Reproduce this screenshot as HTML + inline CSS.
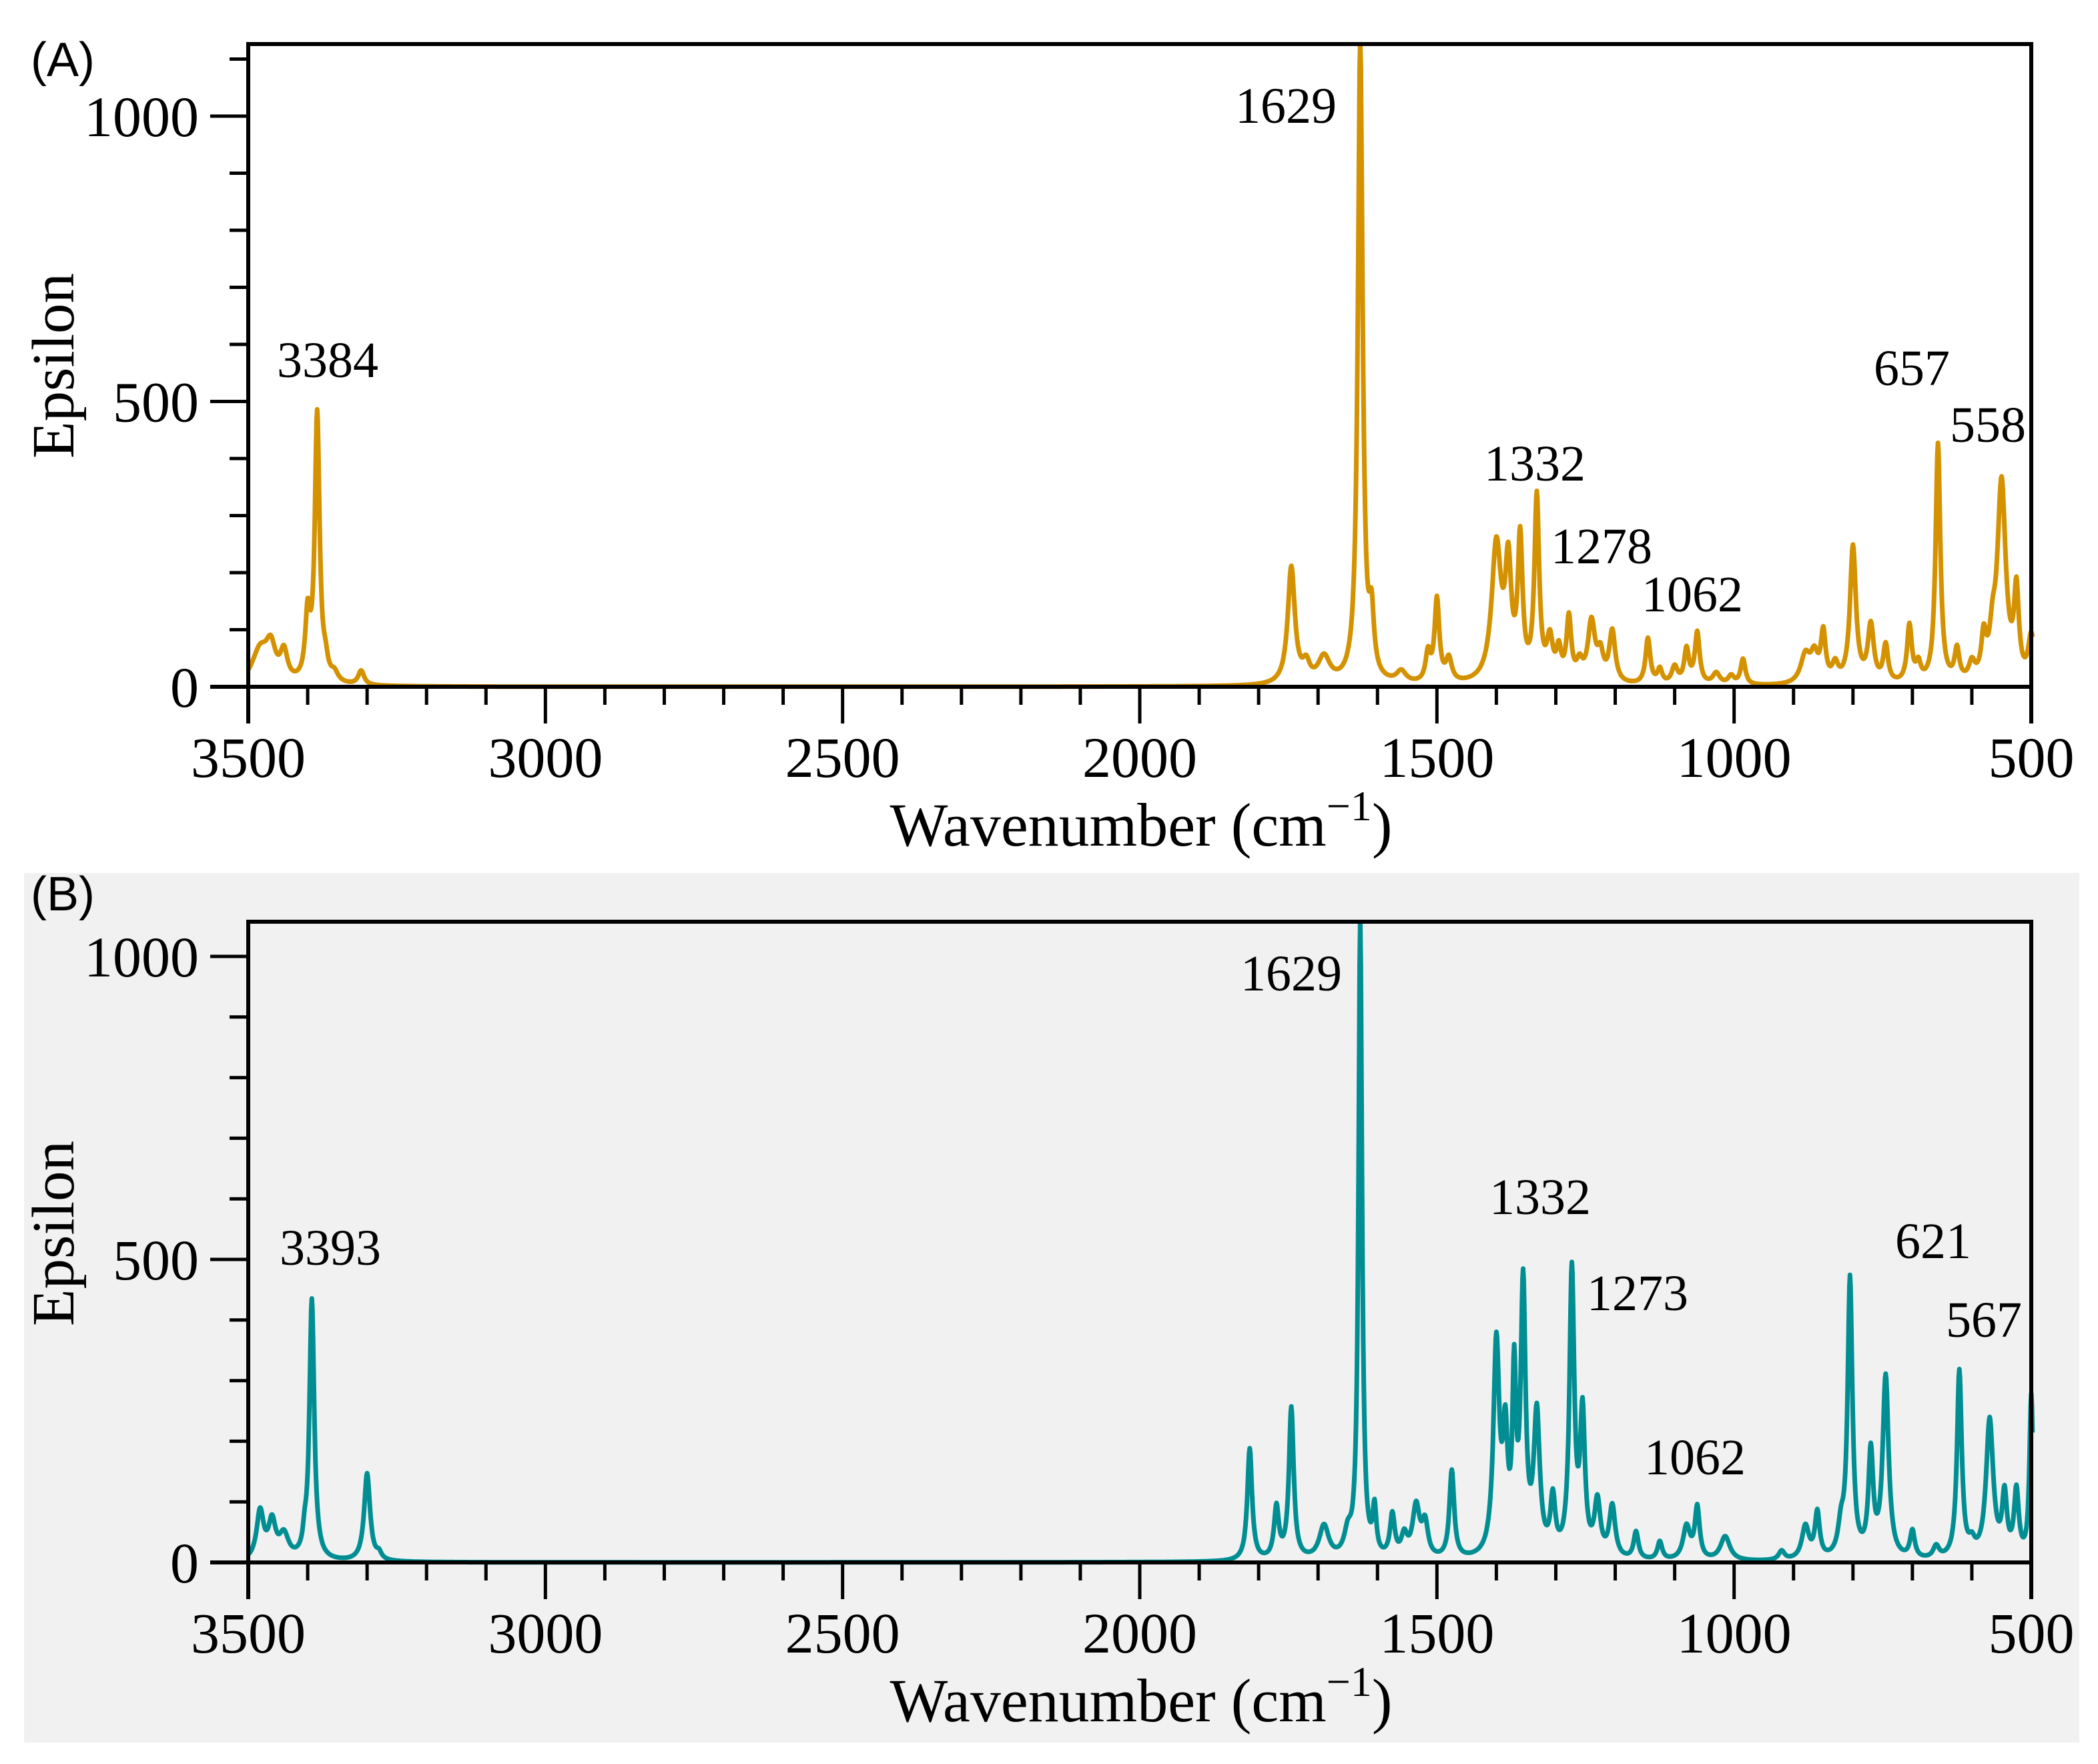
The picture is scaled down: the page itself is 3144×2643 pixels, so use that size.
<!DOCTYPE html>
<html><head><meta charset="utf-8"><style>
html,body{margin:0;padding:0;background:#fff;}
svg{display:block;}
text{font-family:"Liberation Serif",serif;fill:#000;}
.lbl{font-family:"Liberation Sans",sans-serif;}
</style></head><body>
<svg id="chart" width="3144" height="2643" viewBox="0 0 3144 2643" xmlns="http://www.w3.org/2000/svg">
<rect x="0" y="0" width="3144" height="2643" fill="#fff"/>
<rect x="36" y="1308" width="3080" height="1303" fill="#f1f1f1"/>
<g id="panelA"></g>
<g id="panelB"></g>
</svg>
<script>
// Panel A data (peak list: wavenumber, height, half width)
const peaksA_pos = [3480,3462,3440,3400,3384,3370,3355,3310,1745,1720,1690,1629,1610,1560,1515,1500,1480,1400,1380,1360,1332,1310,1295,1278,1260,1240,1225,1205,1145,1125,1100,1080,1062,1030,1005,985,880,865,850,830,800,770,745,705,690,657,625,600,580,565,550,525,500];
const peaksA_h   = [60,55,50,110,470,25,15,25,205,30,45,1120,100,20,50,145,40,240,190,240,320,70,50,110,30,105,45,90,80,25,30,60,90,20,15,45,50,45,85,30,240,100,65,100,30,420,55,30,70,60,350,150,80];
const peaksA_w   = [14,8,6,4,4,4,6,5,6,6,10,4,4,8,4,4,5,8,5,4,4,5,4,4,5,6,5,5,4,4,5,4,4,6,5,4,8,6,4,5,5,5,4,4,4,4,4,5,4,5,7,4,5];
// Panel B data
const peaksB_pos = [3480,3460,3440,3405,3393,3300,3280,1815,1770,1745,1690,1650,1629,1605,1575,1555,1535,1520,1475,1400,1385,1370,1355,1332,1305,1273,1255,1230,1205,1165,1125,1080,1062,1015,920,880,860,820,805,770,745,700,660,621,600,570,545,525,500];
const peaksB_h   = [80,60,40,25,430,145,10,185,85,250,55,35,1050,75,70,35,85,55,145,350,180,280,440,230,90,470,230,90,85,45,30,55,85,40,15,55,75,45,460,170,300,45,20,310,20,230,100,110,270];
const peaksB_w   = [6,6,8,3,4,5,4,4,4,4,8,6,3,3,4,5,6,5,4,5,4,3,4,5,4,4,4,5,5,4,4,6,4,8,5,6,4,5,4,4,5,4,5,4,5,6,4,4,3];
const xTicksMajor = [3500,3000,2500,2000,1500,1000,500];
const xTickLabels = ["3500","3000","2500","2000","1500","1000","500"];
const yTicksMajor = [0,500,1000];
const yTickLabels = ["0","500","1000"];
const annotA_text = ["3384","1629","1332","1278","1062","657","558"];
const annotB_text = ["3393","1629","1332","1273","1062","621","567"];

const NS = "http://www.w3.org/2000/svg";
function el(tag, attrs, parent){const e=document.createElementNS(NS,tag);for(const k in attrs)e.setAttribute(k,attrs[k]);parent.appendChild(e);return e;}

const WSCALE = 1.2;
function spectrum(pos,h,w,x){let s=0;for(let i=0;i<pos.length;i++){const d=(x-pos[i])/(w[i]*WSCALE);s+=h[i]/(1+d*d);}return s;}

function drawPanel(g, cfg){
  const L=372,R=3044,top=cfg.top,zero=cfg.zero,k=cfg.k;
  const xs=v=>L+(3500-v)/3000*(R-L);
  const ys=v=>zero-v*k;
  const cid='clip'+cfg.id;
  const defs=el('defs',{},g);
  const cp=el('clipPath',{id:cid},defs);
  el('rect',{x:L,y:top,width:R-L+8,height:zero-top+20},cp);
  let d='';
  for(let x=3500;x>=498;x-=1){const v=spectrum(cfg.pos,cfg.h,cfg.w,x);d+=(d?'L':'M')+xs(x).toFixed(1)+','+ys(v).toFixed(1);}
  const p=el('path',{d:d,fill:'none',stroke:cfg.color,'stroke-width':7,'stroke-linejoin':'round','clip-path':'url(#'+cid+')'},g);
  
  
  const fr=el('path',{d:`M${L},${zero+55}L${L},${top}L${R},${top}L${R},${zero+55}`,fill:'none',stroke:'#000','stroke-width':6},g);
  
  
  const xa=el('line',{x1:L-57,y1:zero,x2:R,y2:zero,stroke:'#000','stroke-width':6},g);
  
  
  for(let v=3400;v>500;v-=100){
    const major=v%500===0;
    const t=el('line',{x1:xs(v),y1:zero,x2:xs(v),y2:zero+(major?55:27),stroke:'#000','stroke-width':5},g);
    
    
  }
  xTicksMajor.forEach((v,i)=>{
    const t=el('text',{x:xs(v),y:zero+135,'text-anchor':'middle','font-size':86},g);
    t.textContent=xTickLabels[i];
    
    
  });
  for(let v=100;ys(v)>top+5;v+=100){
    const major=v%500===0;
    const t=el('line',{x1:L-(major?57:28),y1:ys(v),x2:L,y2:ys(v),stroke:'#000','stroke-width':5},g);
    
    
  }
  yTicksMajor.forEach((v,i)=>{
    const t=el('text',{x:298,y:ys(v)+30,'text-anchor':'end','font-size':86},g);
    t.textContent=yTickLabels[i];
    
    
  });
  const xt=el('text',{x:1710,y:zero+238,'text-anchor':'middle','font-size':92},g);
  xt.innerHTML='Wavenumber (cm<tspan font-size="64" dy="-38">−1</tspan><tspan dy="38">)</tspan>';
  
  
  const yc=cfg.ytitleY;
  const yt=el('text',{x:0,y:0,'text-anchor':'middle','font-size':90,transform:`translate(110,${yc}) rotate(-90)`,textLength:278,lengthAdjust:'spacingAndGlyphs'},g);
  yt.textContent='Epsilon';
  
  
  const pl=el('text',{x:46,y:cfg.labelY,'font-size':72,class:'lbl'},g);
  pl.textContent=cfg.label;
  
  
  cfg.annot.forEach((s,i)=>{
    const t=el('text',{x:cfg.ax[i],y:cfg.ay[i],'text-anchor':'middle','font-size':76},g);
    t.textContent=s;
    
    
  });
}

drawPanel(document.getElementById('panelA'),{id:'panel-a',top:66,zero:1029,k:0.855,color:'#d49100',
  pos:peaksA_pos,h:peaksA_h,w:peaksA_w,label:'(A)',labelY:114,ytitleY:548,annot:annotA_text,
  ax:[491,1927,2300,2400,2536,2865,2979],ay:[565,184,720,844,916,577,662]});
drawPanel(document.getElementById('panelB'),{id:'panel-b',top:1381,zero:2341,k:0.908,color:'#008e93',
  pos:peaksB_pos,h:peaksB_h,w:peaksB_w,label:'(B)',labelY:1364,ytitleY:1848,annot:annotB_text,
  ax:[495,1935,2308,2454,2540,2897,2973],ay:[1895,1484,1819,1963,2209,1885,2003]});
</script>
</body></html>
